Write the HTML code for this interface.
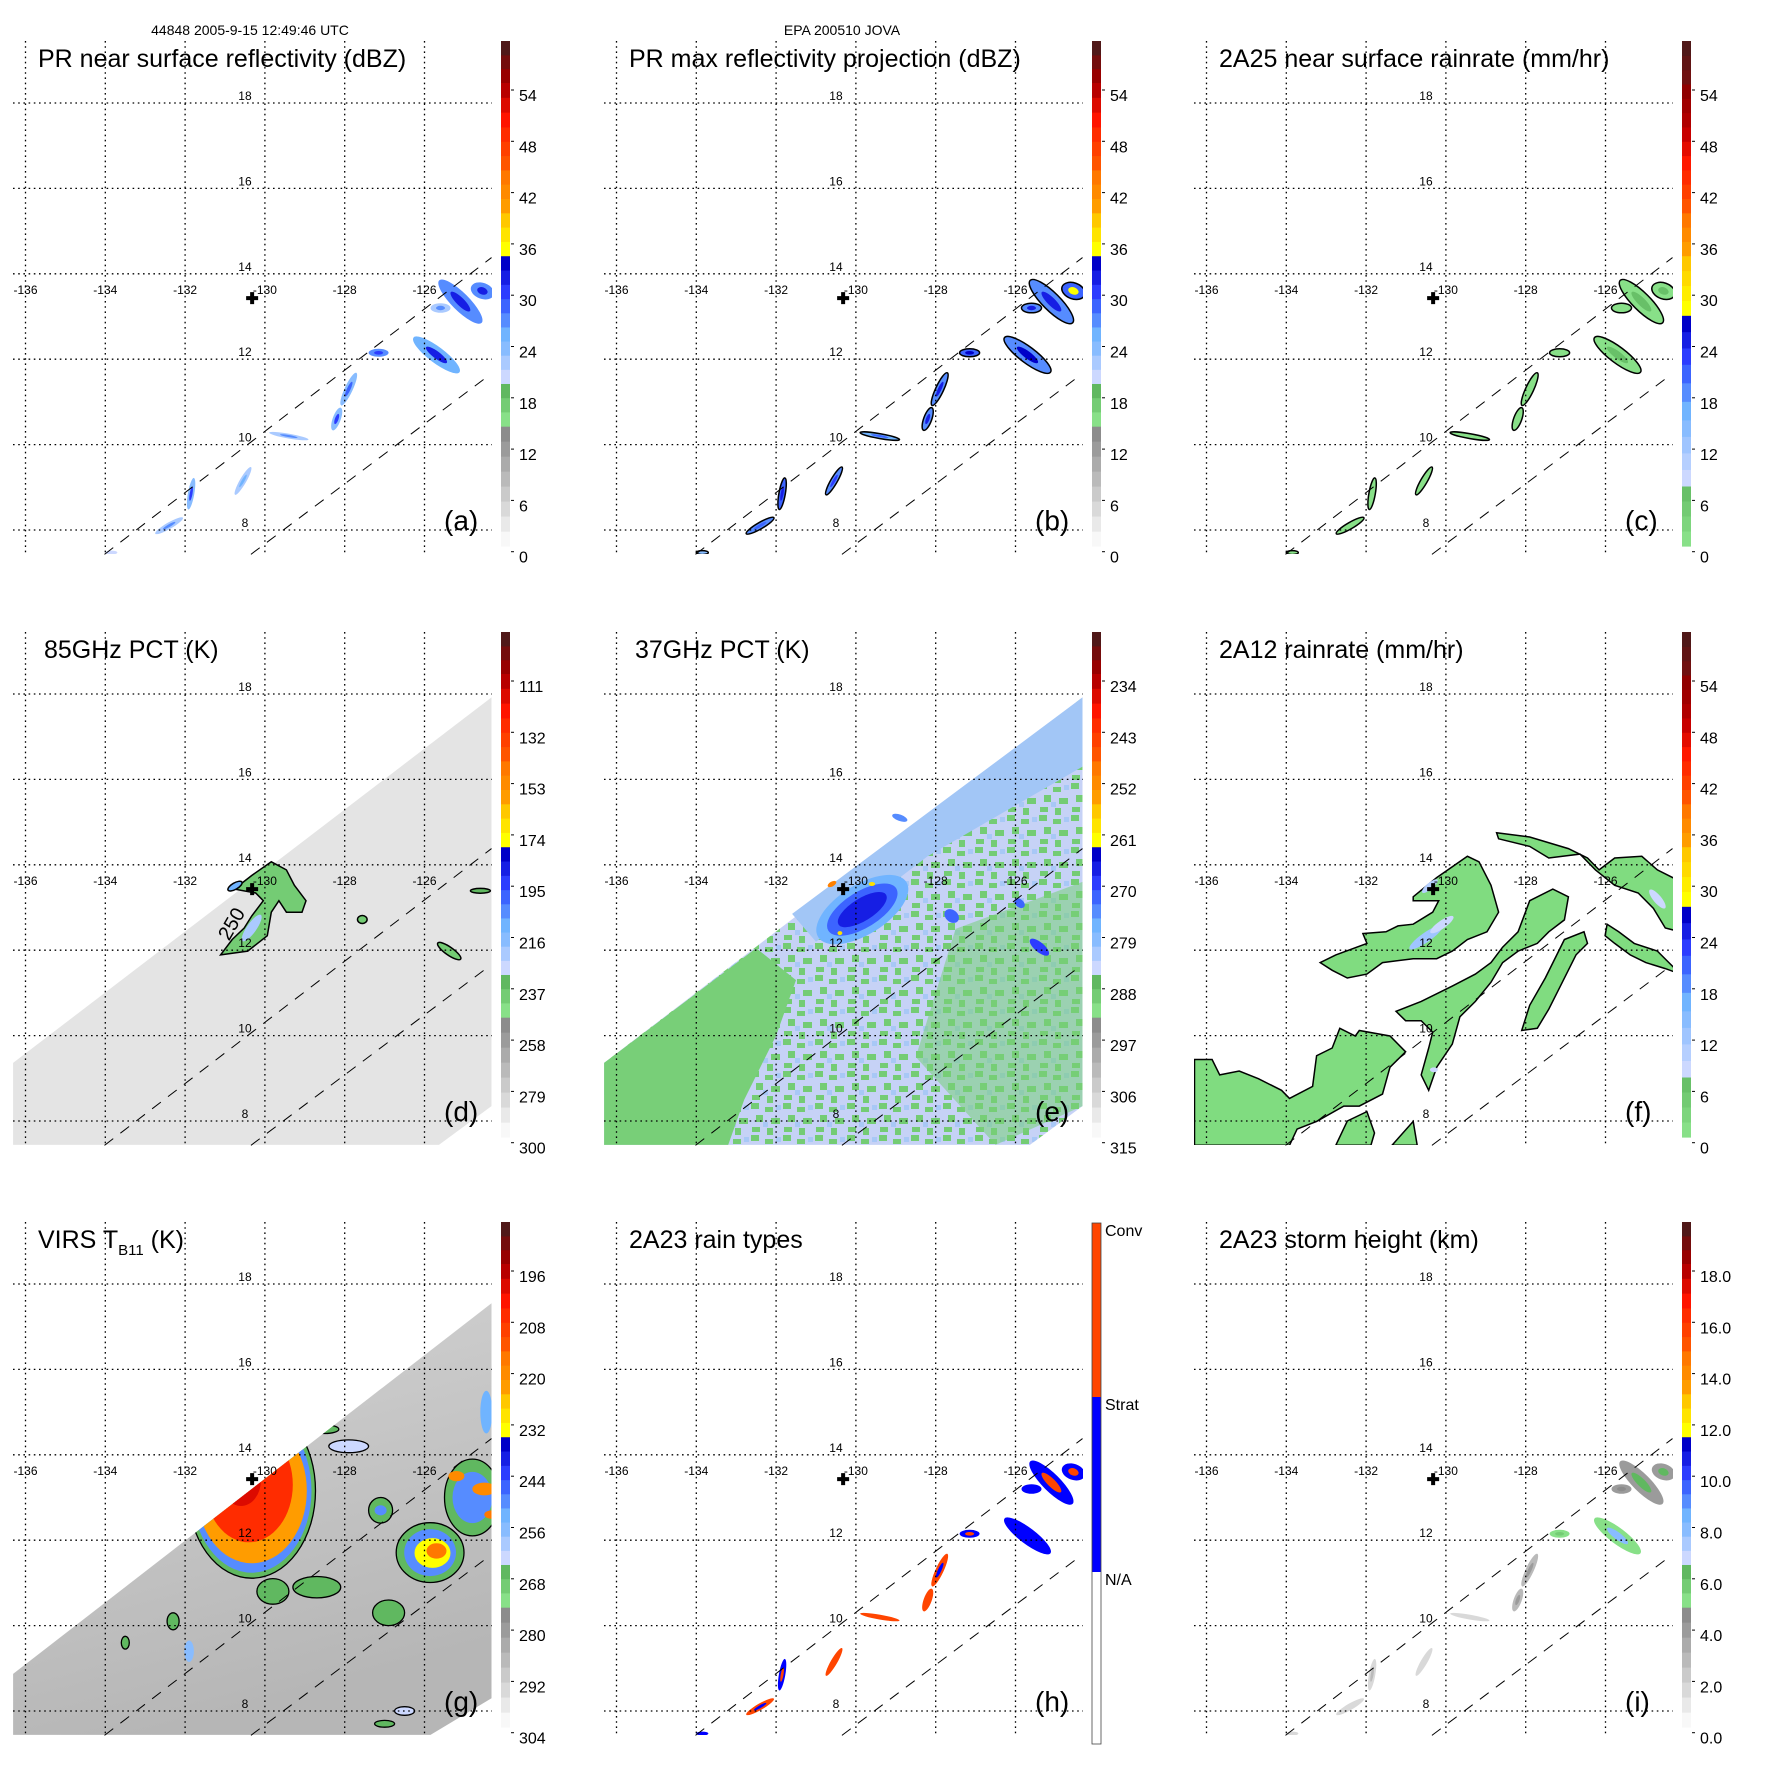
<!DOCTYPE html>
<html><head><meta charset="utf-8"><style>
html,body{margin:0;padding:0;background:#fff}
svg{display:block;font-family:"Liberation Sans",sans-serif}
</style></head><body>
<svg id="fig" xmlns="http://www.w3.org/2000/svg" width="1771" height="1771" viewBox="0 0 1771 1771">
<defs>
<pattern id="mix" width="32" height="32" patternUnits="userSpaceOnUse">
<rect width="32" height="32" fill="#c6d2f6"/>
<rect x="0" y="0" width="8" height="6" fill="#74cc74"/><rect x="14" y="4" width="8" height="5" fill="#74cc74"/>
<rect x="5" y="12" width="7" height="7" fill="#74cc74"/><rect x="20" y="15" width="9" height="6" fill="#74cc74"/>
<rect x="1" y="24" width="8" height="5" fill="#74cc74"/><rect x="16" y="25" width="6" height="7" fill="#74cc74"/>
<rect x="25" y="2" width="5" height="5" fill="#a8c8f6"/><rect x="12" y="19" width="5" height="5" fill="#a8c8f6"/>
</pattern>
<linearGradient id="ggray" x1="0" y1="0" x2="0.3" y2="1"><stop offset="0" stop-color="#d4d4d4"/><stop offset="1" stop-color="#b6b6b6"/></linearGradient>
</defs>
<text x="250" y="35" font-size="14" text-anchor="middle">44848 2005-9-15 12:49:46 UTC</text>
<text x="842" y="35" font-size="14" text-anchor="middle">EPA 200510 JOVA</text>
</svg>
<script>
const NS='http://www.w3.org/2000/svg';
// ---------- data ----------
const lonTicks=[-136,-134,-132,-130,-128,-126];
const latTicks=[18,16,14,12,10,8];
const crossLon=-130.32, crossLat=13.43;
const swathUpperLon=[-134.02,-124.32], swathUpperLat=[7.43,14.38];
const swathLowerLon=[-130.35,-124.37], swathLowerLat=[7.43,11.63];
const mwSwathLon=[-136.31,-124.32,-124.32,-125.64,-136.31];
const mwSwathLat=[9.36,17.92,8.35,7.44,7.44];
const virsSwathLon=[-136.31,-124.32,-124.32,-125.85,-136.31];
const virsSwathLat=[8.87,17.55,8.3,7.44,7.44];
const prLon=[-125.1,-124.55,-125.6,-125.7,-127.15,-127.9,-128.2,-129.4,-130.55,-131.85,-132.4,-133.85];
const prLat=[13.35,13.6,13.2,12.1,12.15,11.3,10.6,10.2,9.15,8.85,8.1,7.47];
const prMaj=[0.75,0.3,0.25,0.72,0.25,0.45,0.3,0.5,0.4,0.4,0.4,0.15];
const prMin=[0.22,0.2,0.12,0.2,0.1,0.1,0.1,0.06,0.08,0.08,0.08,0.05];
const prAng=[45,20,0,37,0,-65,-70,10,-60,-80,-30,0];
const aOuter=[27,28,22,26,27,24,25,23,22,25,23,21], aCore=[32,33,27,32,31,30,31,28,26,31,27,21];
const bOuter=[28,30,27,28,30,28,28,26,27,29,27,25], bCore=[33,36,32,35,34,32,33,30,31,33,30,25];
const cOuter=[3,3,3,3,3,2,2,2,2,3,2,2], cCore=[8,7,3,7,3,2,3,2,2,3,2,2];
const hOuter=[1,1,1,1,1,2,2,2,2,1,2,1], hCore=[2,2,1,1,2,1,2,2,2,2,1,1];
const iOuter=[4,4,4,5.5,5.5,3,3,2,2,2,2,2], iCore=[6.5,6.5,5,8,6,4,4,2,2,3,2,2];
const dPolyLon=[-130.77,-130.33,-129.84,-129.46,-129.26,-128.97,-129.07,-129.46,-129.65,-129.84,-129.94,-130.43,-131.11,-130.82,-130.52,-130.33,-130.04,-130.23];
const dPolyLat=[13.43,13.75,14.07,13.88,13.52,13.16,12.89,12.89,13.16,12.89,12.34,11.98,11.89,12.25,12.52,12.8,13.16,13.34];
const dBlobLon=[-130.33,-125.38,-127.56,-124.6,-130.75], dBlobLat=[12.52,11.98,12.72,13.39,13.5];
const dBlobMaj=[0.4,0.35,0.12,0.25,0.2], dBlobMin=[0.12,0.1,0.1,0.06,0.08], dBlobAng=[-55,35,0,0,-30];
const dBlobVal=[220,238,238,230,210];
const eBlobLon=[-129.84,-129.84,-129.84,-127.6,-125.4,-125.9,-128.9];
const eBlobLat=[12.95,12.95,12.95,12.8,12.07,13.1,15.1];
const eBlobMaj=[1.3,1.0,0.7,0.2,0.3,0.15,0.2], eBlobMin=[0.62,0.45,0.28,0.15,0.12,0.1,0.08], eBlobAng=[-32,-32,-32,40,40,40,20];
const eBlobVal=[276,270,266,270,269,272,274];
const fPolyLon=[
[-130.82,-130.23,-129.46,-129.17,-128.87,-128.68,-128.97,-129.46,-129.84,-130.23,-130.82,-131.59,-131.98,-132.47,-132.85,-133.15,-132.76,-131.98,-132.08,-131.5,-131.2,-130.82,-130.33,-130.18,-130.82],
[-131.25,-130.62,-129.84,-129.26,-128.87,-128.58,-128.19,-127.9,-127.32,-126.93,-127.03,-127.42,-127.71,-128.19,-128.58,-128.87,-129.26,-129.65,-129.84,-130.23,-130.43,-130.62,-130.43,-130.33,-130.62,-131.01],
[-128.1,-127.9,-127.51,-127.03,-126.54,-126.45,-126.74,-127.13,-127.42,-127.71],
[-128.73,-127.9,-126.93,-126.45,-126.16,-125.77,-125.09,-124.7,-124.12,-124.12,-124.5,-124.8,-125.18,-125.77,-126.25,-126.64,-127.42,-127.9,-128.68],
[-125.96,-125.67,-125.28,-124.7,-124.41,-124.12,-124.5,-124.99,-125.38,-125.77,-126.01],
[-136.3,-135.86,-135.67,-135.18,-134.7,-134.12,-133.92,-133.34,-133.24,-132.85,-132.66,-132.27,-132.17,-131.4,-131.01,-131.4,-131.59,-132.17,-132.56,-133.24,-133.73,-133.92,-136.3],
[-132.76,-132.47,-131.98,-131.79,-131.88],
[-131.35,-130.82,-130.72]];
const fPolyLat=[
[13.25,13.7,14.2,14.07,13.52,12.89,12.43,12.25,11.98,11.8,11.8,11.71,11.44,11.35,11.53,11.71,11.89,12.16,12.39,12.43,12.57,12.61,12.89,13.16,13.16],
[10.57,10.8,11.16,11.44,11.71,12.07,12.43,13.16,13.43,13.25,12.71,12.43,12.16,11.98,11.71,11.25,10.8,10.44,9.8,9.26,8.72,9.08,9.71,10.08,10.35,10.35],
[10.12,10.71,11.35,12.25,12.43,12.16,11.89,11.16,10.62,10.17],
[14.75,14.65,14.38,14.16,13.88,14.16,14.2,13.88,13.61,12.43,12.52,12.98,13.34,13.52,13.88,14.25,14.16,14.43,14.61],
[12.61,12.43,12.16,11.98,11.71,11.44,11.57,11.71,11.89,12.16,12.34],
[9.44,9.44,9.08,9.17,8.99,8.72,8.53,8.81,9.53,9.71,10.17,9.99,10.12,9.99,9.62,9.26,8.63,8.35,8.35,7.99,7.81,7.43,7.43],
[7.43,8.0,8.22,7.72,7.43],
[7.43,7.99,7.43]];
const fBlueLon=[-130.5,-130.1,-130.4,-124.7,-130.3], fBlueLat=[12.3,12.6,13.5,13.2,9.2];
const fBlueMaj=[0.5,0.35,0.25,0.3,0.1], fBlueMin=[0.12,0.1,0.08,0.1,0.06], fBlueAng=[-35,-35,-40,50,0], fBlueVal=[14,10,12,10,10];
const gLon=[-130.33,-130.33,-130.33,-130.4,-130.6,-125.86,-125.86,-125.8,-125.7,-124.8,-124.8,-125.2,-124.5,-124.3,-124.45,-127.1,-127.1,-128.7,-129.8,-132.3,-131.9,-127.9,-126.9,-126.5,-127.0,-128.5,-133.5];
const gLat=[13.16,13.16,13.16,13.3,13.4,11.71,11.71,11.7,11.75,13.0,13.0,13.5,13.2,12.6,15.0,12.7,12.7,10.9,10.8,10.1,9.4,14.2,10.3,8.0,7.7,14.6,9.6];
const gRx=[1.6,1.5,1.38,1.1,0.5,0.85,0.65,0.45,0.25,0.7,0.5,0.2,0.3,0.2,0.15,0.3,0.15,0.6,0.4,0.15,0.12,0.5,0.4,0.25,0.25,0.35,0.1];
const gRy=[2.05,1.92,1.7,1.35,0.6,0.7,0.55,0.35,0.18,0.9,0.6,0.12,0.15,0.1,0.5,0.3,0.12,0.25,0.3,0.2,0.25,0.15,0.3,0.1,0.08,0.1,0.15];
const gVal=[266,250,222,206,198,266,250,232,216,266,250,218,220,215,252,264,250,265,265,266,254,262,266,262,264,264,266];
const labA=['0','6','12','18','24','30','36','42','48','54'];
const labD=['300','279','258','237','216','195','174','153','132','111'];
const labE=['315','306','297','288','279','270','261','252','243','234'];
const labG=['304','292','280','268','256','244','232','220','208','196'];
const labI=['0.0','2.0','4.0','6.0','8.0','10.0','12.0','14.0','16.0','18.0'];
const rainTypeLabels=['Conv','Strat','N/A'];
// ---------- colour maps ----------
const segA=[[0,0.2375,'#f8f8f8','#8c8c8c',8],[0.2375,0.322,'#88e088','#60b860',3],[0.322,0.406,'#ccd8ff','#88bcff',3],[0.406,0.49,'#70b4ff','#3c64ff',3],[0.49,0.575,'#2c3cff','#0000c8',3],[0.575,0.66,'#ffff00','#ffc800',3],[0.66,0.745,'#ff9c00','#ff7800',3],[0.745,0.83,'#ff5400','#ff2c00',3],[0.83,0.918,'#ff1400','#b80000',3],[0.918,1,'#980000','#501818',3]];
const segC=[[0,0.119,'#88e088','#68c068',4],[0.119,0.25,'#ccd8ff','#88bcff',4],[0.25,0.36,'#70b4ff','#3c64ff',3],[0.36,0.457,'#2c3cff','#0000c8',3],[0.457,0.575,'#ffff00','#ffc800',4],[0.575,0.66,'#ff9c00','#ff7800',3],[0.66,0.745,'#ff5400','#ff2c00',3],[0.745,0.83,'#ff1800','#c80000',3],[0.83,0.915,'#b00000','#900000',3],[0.915,1,'#701010','#501818',3]];
function hx(c){return [1,3,5].map(i=>parseInt(c.substr(i,2),16));}
function mixc(a,b,t){const A=hx(a),B=hx(b);return 'rgb('+A.map((v,i)=>Math.round(v+(B[i]-v)*t)).join(',')+')';}
function fracColor(seg,f){f=Math.max(0,Math.min(0.999,f));for(const s of seg){if(f>=s[0]&&f<s[1]){const n=s[4];const k=Math.floor((f-s[0])/(s[1]-s[0])*n);return mixc(s[2],s[3],n>1?k/(n-1):0);}}return seg[seg.length-1][3];}
function valFrac(v,v0,v9){const y=556.7-(v-v0)/(v9-v0)*9*51.3;return (546-y)/505;}
function X(lon){return 25.5+(lon+136)*39.9;}
function Y(lat){return 103+(18-lat)*42.7;}
function mk(tag,attrs,parent){const e=document.createElementNS(NS,tag);for(const k in attrs)e.setAttribute(k,attrs[k]);parent.appendChild(e);return e;}
const svg=document.getElementById('fig');
const panels=[
{id:'a',c:0,r:0,title:'PR near surface reflectivity (dBZ)',tx:38,seg:segA,lab:labA,v0:0,v9:54},
{id:'b',c:1,r:0,title:'PR max reflectivity projection (dBZ)',tx:38,seg:segA,lab:labA,v0:0,v9:54},
{id:'c',c:2,r:0,title:'2A25 near surface rainrate (mm/hr)',tx:38,seg:segC,lab:labA,v0:0,v9:54},
{id:'d',c:0,r:1,title:'85GHz PCT (K)',tx:44,seg:segA,lab:labD,v0:300,v9:111},
{id:'e',c:1,r:1,title:'37GHz PCT (K)',tx:44,seg:segA,lab:labE,v0:315,v9:234},
{id:'f',c:2,r:1,title:'2A12 rainrate (mm/hr)',tx:38,seg:segC,lab:labA,v0:0,v9:54},
{id:'g',c:0,r:2,title:'VIRS',tx:38,seg:segA,lab:labG,v0:304,v9:196},
{id:'h',c:1,r:2,title:'2A23 rain types',tx:38,seg:null,lab:null},
{id:'i',c:2,r:2,title:'2A23 storm height (km)',tx:38,seg:segA,lab:labI,v0:0,v9:18}];
function poly(lons,lats){return lons.map((l,i)=>X(l).toFixed(1)+','+Y(lats[i]).toFixed(1)).join(' ');}
function ellipse(g,lon,lat,maj,min,ang,fill,stroke,name){
 const cx=X(lon),cy=Y(lat);
 const e=mk('ellipse',{cx:cx.toFixed(1),cy:cy.toFixed(1),rx:(maj*40).toFixed(1),ry:(min*40).toFixed(1),transform:'rotate('+ang+' '+cx.toFixed(1)+' '+cy.toFixed(1)+')',fill:fill},g);
 if(stroke){e.setAttribute('stroke',stroke);e.setAttribute('stroke-width','1.5');}
 
 
 return e;
}
panels.forEach(p=>{
 const ox=Math.round(p.c*590.5), oy=Math.round(p.r*590.5);
 const G=mk('g',{transform:'translate('+ox+','+oy+')'},svg);
 
 
 const cp=mk('clipPath',{id:'clip'+p.id},G);
 mk('rect',{x:13,y:41,width:479,height:513},cp);
 const D=mk('g',{'clip-path':'url(#clip'+p.id+')'},G);
 
 
 const cf=(v)=>fracColor(p.seg,valFrac(v,p.v0,p.v9));
 if('abchi'.includes(p.id)){
  prLon.forEach((lon,i)=>{
   let o,c,st=null;
   if(p.id==='a'){o=cf(aOuter[i]);c=cf(aCore[i]);}
   if(p.id==='b'){o=cf(bOuter[i]);c=cf(bCore[i]);st='#000';}
   if(p.id==='c'){o=cf(cOuter[i]);c=cf(cCore[i]);st='#000';}
   if(p.id==='h'){o=hOuter[i]===1?'#0000ff':'#ff4500';c=hCore[i]===1?'#0000ff':'#ff4500';}
   if(p.id==='i'){o=cf(iOuter[i]);c=cf(iCore[i]);}
   ellipse(D,lon,prLat[i],prMaj[i],prMin[i],prAng[i],o,st,'rain-cluster');
   ellipse(D,lon,prLat[i],prMaj[i]*0.45,prMin[i]*0.45,prAng[i],c,null,'rain-core');
  });
 }
 if(p.id==='d'){
  const s=mk('polygon',{points:poly(mwSwathLon,mwSwathLat),fill:'#e4e4e4'},D);
  
  
  const pg=mk('polygon',{points:poly(dPolyLon,dPolyLat),fill:cf(240),stroke:'#000','stroke-width':1.5},D);
  
  
  dBlobLon.forEach((lon,i)=>{ellipse(D,lon,dBlobLat[i],dBlobMaj[i],dBlobMin[i],dBlobAng[i],cf(dBlobVal[i]),i>0?'#000':null,'pct85-cell');});
  const t=mk('text',{x:X(-130.9),y:Y(12.2),'font-size':20,transform:'rotate(-60 '+X(-130.9)+' '+Y(12.2)+')'},D);
  t.textContent='250';
  
  
 }
 if(p.id==='e'){
  const s=mk('polygon',{points:poly(mwSwathLon,mwSwathLat),fill:'url(#mix)'},D);
  
  
  const gr=mk('polygon',{points:poly([-136.31,-132.5,-131.5,-132.0,-132.8,-133.2,-136.31],[9.36,12.05,11.3,10.0,8.5,7.44,7.44]),fill:'#78cf78'},D);
  
  
  const gr2=mk('polygon',{points:poly([-127.5,-124.32,-124.32,-126.5,-128.5],[12.5,13.6,8.35,7.44,9.5]),fill:'#78cf78','fill-opacity':0.55},D);
  
  
  const bb=mk('polygon',{points:poly([-131.6,-124.32,-124.32,-128.2,-131.0],[12.85,17.92,16.3,14.2,12.2]),fill:'#a2c6f6'},D);
  
  
  eBlobLon.forEach((lon,i)=>{ellipse(D,lon,eBlobLat[i],eBlobMaj[i],eBlobMin[i],eBlobAng[i],cf(eBlobVal[i]),null,'pct37-cell');});
  ellipse(D,-129.6,13.55,0.08,0.05,0,'#ffe000',null,'pct37-core');
  ellipse(D,-130.6,13.55,0.12,0.06,-30,'#ff8000',null,'pct37-core');
  ellipse(D,-130.4,12.4,0.06,0.05,0,'#ffe000',null,'pct37-core');
 }
 if(p.id==='f'){
  fPolyLon.forEach((lons,k)=>{
   const pg=mk('polygon',{points:poly(lons,fPolyLat[k]),fill:'#80dc80',stroke:'#000','stroke-width':1.5},D);
   
   
  });
  fBlueLon.forEach((lon,i)=>{ellipse(D,lon,fBlueLat[i],fBlueMaj[i],fBlueMin[i],fBlueAng[i],cf(fBlueVal[i]),null,'rain-core');});
 }
 if(p.id==='g'){
  const sc=mk('clipPath',{id:'gsw'},G);
  mk('polygon',{points:poly(virsSwathLon,virsSwathLat)},sc);
  const s=mk('polygon',{points:poly(virsSwathLon,virsSwathLat),fill:'url(#ggray)'},D);
  
  
  const W=mk('g',{'clip-path':'url(#gsw)'},D);
  gLon.forEach((lon,i)=>{
   const e=mk('ellipse',{cx:X(lon).toFixed(1),cy:Y(gLat[i]).toFixed(1),rx:(gRx[i]*39.9).toFixed(1),ry:(gRy[i]*42.7).toFixed(1),fill:cf(gVal[i])},W);
   if(gVal[i]>260){e.setAttribute('stroke','#000');e.setAttribute('stroke-width','1.3');}
   
   
  });
 }
 lonTicks.forEach(l=>{
  const ln=mk('line',{x1:X(l),y1:41,x2:X(l),y2:554,stroke:'#000','stroke-width':1.3,'stroke-dasharray':'1.6 3.6'},G);
  
  
  const t=mk('text',{x:X(l),y:Y(13.53),'font-size':12,'text-anchor':'middle'},G);
  t.textContent=String(l);
  
  
 });
 latTicks.forEach(l=>{
  const ln=mk('line',{x1:13,y1:Y(l),x2:492,y2:Y(l),stroke:'#000','stroke-width':1.3,'stroke-dasharray':'1.6 3.6'},G);
  
  
  const t=mk('text',{x:X(-130.5),y:Y(l)-3,'font-size':12,'text-anchor':'middle'},G);
  t.textContent=String(l);
  
  
 });
 [[swathUpperLon,swathUpperLat],[swathLowerLon,swathLowerLat]].forEach(e=>{
  const ln=mk('line',{x1:X(e[0][0]),y1:Y(e[1][0]),x2:X(e[0][1]),y2:Y(e[1][1]),stroke:'#000','stroke-width':1,'stroke-dasharray':'11 9'},G);
  
  
 });
 const cx=X(crossLon),cy=Y(crossLat);
 const cr=mk('path',{d:'M'+(cx-6)+' '+cy+'H'+(cx+6)+'M'+cx+' '+(cy-6)+'V'+(cy+6),stroke:'#000','stroke-width':4},G);
 
 
 const tt=mk('text',{x:p.tx,y:67,'font-size':25},G);
 
 
 if(p.id==='g'){tt.innerHTML='VIRS T<tspan font-size="15" dy="7">B11</tspan><tspan dy="-7"> (K)</tspan>';}
 else tt.textContent=p.title;
 const pl=mk('text',{x:444,y:530,'font-size':28},G);
 pl.textContent='('+p.id+')';
 
 
 const CB=mk('g',{},G);
 
 
 if(p.seg){
  p.seg.forEach(s=>{
   const n=s[4];
   for(let k=0;k<n;k++){
    const f0=s[0]+(s[1]-s[0])*k/n,f1=s[0]+(s[1]-s[0])*(k+1)/n;
    const r=mk('rect',{x:501,y:(546-f1*505).toFixed(2),width:9,height:((f1-f0)*505+0.6).toFixed(2),fill:mixc(s[2],s[3],n>1?k/(n-1):0)},CB);
    
    
   }
  });
  p.lab.forEach((l,i)=>{
   const y=556.7-i*51.3;
   mk('line',{x1:511,y1:y-5,x2:514,y2:y-5,stroke:'#000','stroke-width':1},CB);
   const t=mk('text',{x:519,y:y+6,'font-size':16},CB);
   t.textContent=l;
   
   
  });
 } else {
  const bands=[['#ff4500',42,216],['#0000ff',216,391],['#ffffff',391,563]];
  bands.forEach(b=>{
   const r=mk('rect',{x:501,y:b[1],width:9,height:b[2]-b[1],fill:b[0]},CB);
   
   
  });
  mk('rect',{x:501,y:42,width:9,height:521,fill:'none',stroke:'#444','stroke-width':0.8},CB);
  rainTypeLabels.forEach((l,i)=>{
   const t=mk('text',{x:514,y:[49,223,398][i]+6,'font-size':16},CB);
   t.textContent=l;
   
   
  });
 }
});
</script>
</body></html>
